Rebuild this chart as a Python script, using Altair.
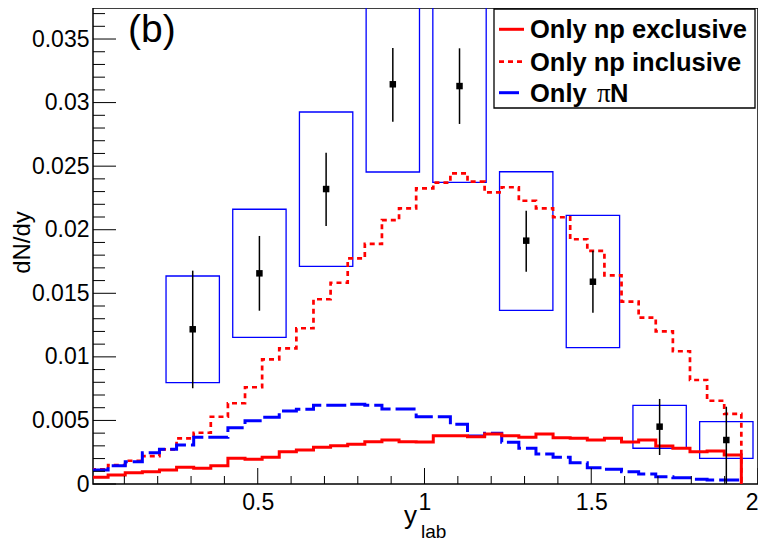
import altair as alt
import pandas as pd

# ---------------- data ----------------
# histogram definition: 38 bins from 0 to 1.95 in y_lab
N_BINS = 38
HIST_MAX = 1.95

only_np_exclusive = [0.00053, 0.00071, 0.00089, 0.00097, 0.0011, 0.00131, 0.00123, 0.00144,
                     0.00202, 0.00194, 0.0021, 0.00254, 0.00267, 0.00289, 0.00301, 0.00312,
                     0.00333, 0.00346, 0.00333, 0.0033, 0.0038, 0.0038, 0.00372, 0.00393,
                     0.0038, 0.00367, 0.00393, 0.00364, 0.00359, 0.00346, 0.00359, 0.0033,
                     0.00346, 0.00299, 0.00281, 0.00254, 0.0026, 0.00228]

only_np_inclusive = [0.00116, 0.00149, 0.00183, 0.0022, 0.00273, 0.00359, 0.00403, 0.00529,
                     0.00635, 0.00761, 0.00981, 0.01067, 0.01225, 0.01453, 0.01583, 0.01775,
                     0.01888, 0.02076, 0.02168, 0.02326, 0.0237, 0.02444, 0.02378, 0.02294,
                     0.02334, 0.02228, 0.02168, 0.02098, 0.01925, 0.01833, 0.01641, 0.01434,
                     0.01308, 0.01201, 0.01044, 0.00818, 0.00655, 0.00551]

only_piN = [0.0011, 0.00144, 0.00175, 0.00246, 0.00273, 0.00307, 0.00367, 0.00367,
            0.00443, 0.00498, 0.00525, 0.00574, 0.00587, 0.00619, 0.00619, 0.00627,
            0.00619, 0.0059, 0.0059, 0.00529, 0.00529, 0.0047, 0.00378, 0.00399,
            0.00328, 0.00281, 0.00236, 0.0021, 0.00168, 0.00128, 0.00116, 0.00097,
            0.00079, 0.00057, 0.0005, 0.00037, 0.00031, 0.00031]

# measured points
pt_x = [0.305, 0.505, 0.705, 0.905, 1.105, 1.305, 1.505, 1.705, 1.905]
pt_y = [0.01217, 0.01657, 0.0232, 0.03144, 0.0313, 0.01914, 0.01591, 0.00451, 0.00346]
stat_lo = [0.00753, 0.01363, 0.02029, 0.0285, 0.02832, 0.0167, 0.01347, 0.00228, 0.0]
stat_hi = [0.01678, 0.01951, 0.02606, 0.0343, 0.03427, 0.0215, 0.01835, 0.00669, 0.00608]
sys_lo = [0.00797, 0.01154, 0.01712, 0.02454, 0.02373, 0.01366, 0.01072, 0.00281, 0.00202]
sys_hi = [0.01636, 0.02161, 0.02926, 0.0383, 0.0389, 0.02456, 0.02113, 0.00619, 0.0049]
pt_xerr = 0.08

x_major = [0.5, 1.0, 1.5, 2.0]
x_minor = [0.1, 0.2, 0.3, 0.4, 0.6, 0.7, 0.8, 0.9, 1.1, 1.2, 1.3, 1.4, 1.6, 1.7, 1.8, 1.9]
y_major = [0.0, 0.005, 0.01, 0.015, 0.02, 0.025, 0.03, 0.035]
y_minor = [v / 1000 for v in range(1, 38) if v % 5 != 0]

legend_labels = ["Only np exclusive", "Only np inclusive"]

# ---------------- styling / layout ----------------
W, H = 665, 476
X_DOMAIN = [0.006, 2.0]
Y_DOMAIN = [0.0, 0.03744]
FONT = "Liberation Sans"
RED = "#ff0000"
BLUE = "#0000ff"

xscale = alt.Scale(domain=X_DOMAIN, nice=False, zero=False)
yscale = alt.Scale(domain=Y_DOMAIN, nice=False, zero=False)
xaxis = alt.Axis(values=x_major, format="~g", labelFont=FONT, labelFontSize=23,
                 labelColor="black", ticks=False, tickSize=0, domain=False, grid=False,
                 title=None, labelPadding=7, labelFlush=1, labelOverlap=False)
yaxis = alt.Axis(values=y_major, format=".3~f", labelFont=FONT, labelFontSize=23,
                 labelColor="black", ticks=False, tickSize=0, domain=False, grid=False,
                 title=None, labelPadding=4, labelFlush=False, labelOverlap=False)


def X(f):
    return alt.X(f, type="quantitative", scale=xscale, axis=xaxis)


def Y(f):
    return alt.Y(f, type="quantitative", scale=yscale, axis=yaxis)


edges = [HIST_MAX * i / N_BINS for i in range(N_BINS + 1)]


def hist_df(vals):
    xs = edges[:-1] + [edges[-1], edges[-1]]
    ys = list(vals) + [vals[-1], 0.0]
    return pd.DataFrame({"x": xs, "y": ys, "i": list(range(len(xs)))})


layers = []

# systematic boxes
pts = pd.DataFrame({
    "x": pt_x, "y": pt_y,
    "x0": [v - pt_xerr for v in pt_x], "x1": [v + pt_xerr for v in pt_x],
    "b0": sys_lo, "b1": sys_hi, "e0": stat_lo, "e1": stat_hi,
})
layers.append(alt.Chart(pts).mark_rect(fill=None, fillOpacity=0, stroke=BLUE, strokeWidth=1.3,
                                       clip=True).encode(
    x=X("x0"), x2="x1", y=Y("b0"), y2="b1"))

# histograms
layers.append(alt.Chart(hist_df(only_np_inclusive)).mark_line(
    interpolate="step-after", color=RED, strokeWidth=2.7, strokeDash=[5, 4], clip=True).encode(
    x=X("x"), y=Y("y"), order=alt.Order("i:Q")))
layers.append(alt.Chart(hist_df(only_piN)).mark_line(
    interpolate="step-after", color=BLUE, strokeWidth=3, strokeDash=[20, 5], clip=True).encode(
    x=X("x"), y=Y("y"), order=alt.Order("i:Q")))
layers.append(alt.Chart(hist_df(only_np_exclusive)).mark_line(
    interpolate="step-after", color=RED, strokeWidth=3, clip=True).encode(
    x=X("x"), y=Y("y"), order=alt.Order("i:Q")))

# statistical error bars and markers
layers.append(alt.Chart(pts).mark_rule(color="black", strokeWidth=1.5, clip=True).encode(
    x=X("x"), y=Y("e0"), y2="e1"))
layers.append(alt.Chart(pts).mark_square(color="black", size=42, opacity=1, clip=True).encode(
    x=X("x"), y=Y("y")))

# inward ticks (ROOT style)
layers.append(alt.Chart(pd.DataFrame({"y": y_major})).mark_rule(color="black", strokeWidth=1).encode(
    y=Y("y"), x=alt.value(0), x2=alt.value(23)))
layers.append(alt.Chart(pd.DataFrame({"y": y_minor})).mark_rule(color="black", strokeWidth=1).encode(
    y=Y("y"), x=alt.value(0), x2=alt.value(12)))
layers.append(alt.Chart(pd.DataFrame({"x": x_major})).mark_rule(color="black", strokeWidth=1).encode(
    x=X("x"), y=alt.value(H), y2=alt.value(H - 16)))
layers.append(alt.Chart(pd.DataFrame({"x": x_minor})).mark_rule(color="black", strokeWidth=1).encode(
    x=X("x"), y=alt.value(H), y2=alt.value(H - 8)))

# legend box
layers.append(alt.Chart().mark_rect(fill="white", stroke="black", strokeWidth=1.3).encode(
    x=alt.value(401), x2=alt.value(662), y=alt.value(1), y2=alt.value(100)))
leg_y = [21.3, 53.7, 84.7]
layers.append(alt.Chart().mark_rule(color=RED, strokeWidth=3).encode(
    x=alt.value(406), x2=alt.value(431), y=alt.value(leg_y[0])))
layers.append(alt.Chart().mark_rule(color=RED, strokeWidth=2.7, strokeDash=[5, 4]).encode(
    x=alt.value(406), x2=alt.value(431), y=alt.value(leg_y[1])))
layers.append(alt.Chart().mark_rule(color=BLUE, strokeWidth=3, strokeDash=[20, 5]).encode(
    x=alt.value(406), x2=alt.value(431), y=alt.value(leg_y[2])))
for i, lab in enumerate(legend_labels):
    layers.append(alt.Chart().mark_text(text=lab, font=FONT, fontSize=25.5, fontWeight="bold",
                                        align="left", baseline="alphabetic", color="black").encode(
        x=alt.value(437), y=alt.value(leg_y[i] + 9)))
layers.append(alt.Chart().mark_text(text="Only", font=FONT, fontSize=25.5, fontWeight="bold",
                                    align="left", baseline="alphabetic", color="black").encode(
    x=alt.value(437), y=alt.value(leg_y[2] + 9)))
layers.append(alt.Chart().mark_text(text="π", font="Liberation Serif", fontSize=27,
                                    align="left", baseline="alphabetic", color="black").encode(
    x=alt.value(504), y=alt.value(leg_y[2] + 9)))
layers.append(alt.Chart().mark_text(text="N", font=FONT, fontSize=25.5, fontWeight="bold",
                                    align="left", baseline="alphabetic", color="black").encode(
    x=alt.value(517), y=alt.value(leg_y[2] + 9)))

# panel tag and axis titles
layers.append(alt.Chart().mark_text(text="(b)", font=FONT, fontSize=39, align="left",
                                    baseline="alphabetic", color="black").encode(
    x=alt.value(35), y=alt.value(33.5)))
layers.append(alt.Chart().mark_text(text="dN/dy", font=FONT, fontSize=24, angle=270, align="center",
                                    baseline="alphabetic", color="black").encode(
    x=alt.value(-63), y=alt.value(234.5)))
layers.append(alt.Chart().mark_text(text="y", font=FONT, fontSize=26, align="left",
                                    baseline="alphabetic", color="black").encode(
    x=alt.value(311), y=alt.value(516)))
layers.append(alt.Chart().mark_text(text="lab", font=FONT, fontSize=19, align="left",
                                    baseline="alphabetic", color="black").encode(
    x=alt.value(328), y=alt.value(530)))

chart = alt.layer(*layers).properties(
    width=W, height=H,
    padding={"left": 85, "top": 0, "right": 0, "bottom": 59},
    autosize=alt.AutoSizeParams(type="none"),
    background="white",
).configure_view(stroke="black", strokeWidth=1.5)

chart.save("out.html", embed_options={"renderer": "svg", "actions": False})
